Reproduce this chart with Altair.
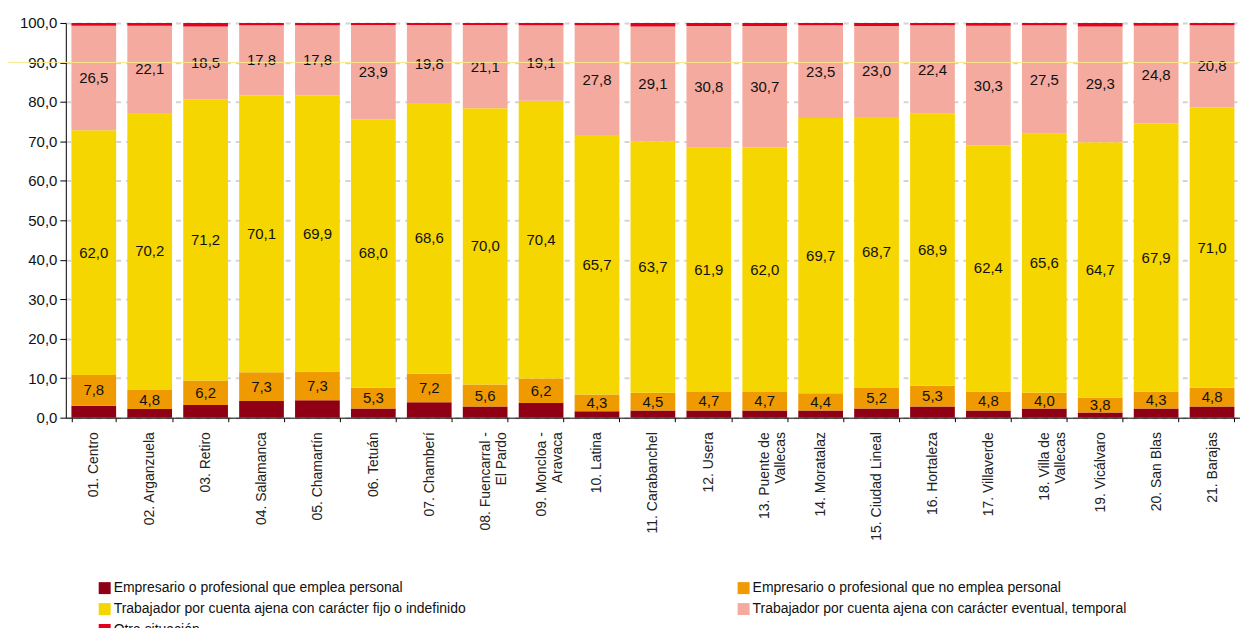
import altair as alt
import pandas as pd

districts = [
    "01. Centro", "02. Arganzuela", "03. Retiro", "04. Salamanca", "05. Chamartín",
    "06. Tetuán", "07. Chamberí", "08. Fuencarral -\nEl Pardo", "09. Moncloa -\nAravaca",
    "10. Latina", "11. Carabanchel", "12. Usera", "13. Puente de\nVallecas", "14. Moratalaz",
    "15. Ciudad Lineal", "16. Hortaleza", "17. Villaverde", "18. Villa de\nVallecas",
    "19. Vicálvaro", "20. San Blas", "21. Barajas",
]

series = [
    "Empresario o profesional que emplea personal",
    "Empresario o profesional que no emplea personal",
    "Trabajador por cuenta ajena con carácter fijo o indefinido",
    "Trabajador por cuenta ajena con carácter eventual, temporal",
    "Otra situación",
]
colors = ["#900015", "#EF9A00", "#F6D600", "#F5AA9F", "#E2001A"]
# legend fills column by column: order so that it reads row by row like the reference
legend_order = [0, 2, 4, 1, 3]

emp_con = [3.0, 2.2, 3.2, 4.2, 4.4, 2.3, 3.9, 2.8, 3.7, 1.6, 1.8, 1.8, 1.8, 1.8, 2.3, 2.8, 1.8, 2.3, 1.3, 2.3, 2.8]
emp_sin = [7.8, 4.8, 6.2, 7.3, 7.3, 5.3, 7.2, 5.6, 6.2, 4.3, 4.5, 4.7, 4.7, 4.4, 5.2, 5.3, 4.8, 4.0, 3.8, 4.3, 4.8]
fijo = [62.0, 70.2, 71.2, 70.1, 69.9, 68.0, 68.6, 70.0, 70.4, 65.7, 63.7, 61.9, 62.0, 69.7, 68.7, 68.9, 62.4, 65.6, 64.7, 67.9, 71.0]
eventual = [26.5, 22.1, 18.5, 17.8, 17.8, 23.9, 19.8, 21.1, 19.1, 27.8, 29.1, 30.8, 30.7, 23.5, 23.0, 22.4, 30.3, 27.5, 29.3, 24.8, 20.8]
otra = [0.7, 0.7, 0.9, 0.6, 0.6, 0.5, 0.5, 0.5, 0.6, 0.6, 0.9, 0.8, 0.8, 0.6, 0.8, 0.6, 0.7, 0.6, 0.9, 0.7, 0.6]
y_ticks = [0, 10, 20, 30, 40, 50, 60, 70, 80, 90, 100]

all_vals = [emp_con, emp_sin, fijo, eventual, otra]
labeled = [False, True, True, True, False]

rows = []
for si, (name, vals) in enumerate(zip(series, all_vals)):
    for d, v in zip(districts, vals):
        rows.append({"district": d, "serie": name, "idx": si, "value": v, "lab": labeled[si]})
df = pd.DataFrame(rows)

FONT = "Liberation Sans"
W, H = 1178, 396

x_axis = alt.Axis(labelAngle=-90, labelAlign="right", labelBaseline="middle",
                  labelExpr="split(datum.label, '\\n')", labelFontSize=14,
                  labelLineHeight=16, labelPadding=10, tickBand="extent",
                  tickSize=4, labelColor="#222222", labelFont=FONT, title=None)
y_axis = alt.Axis(values=y_ticks,
                  labelExpr="replace(format(datum.value, '.1f'), '.', ',')",
                  labelFontSize=15, tickSize=6, labelPadding=3,
                  grid=True, gridDash=[5, 5], gridColor="#d4d4d4", gridWidth=2,
                  labelColor="#111111", labelFont=FONT, title=None)
x_scale = alt.Scale(paddingInner=0.2, paddingOuter=0.1)
y_scale = alt.Scale(domain=[0, 100], nice=False)

bars = alt.Chart(df).mark_bar().encode(
    x=alt.X("district:N", sort=districts, scale=x_scale, axis=x_axis),
    y=alt.Y("value:Q", stack="zero", scale=y_scale, axis=y_axis),
    color=alt.Color("serie:N",
                    scale=alt.Scale(domain=[series[i] for i in legend_order],
                                    range=[colors[i] for i in legend_order]),
                    legend=alt.Legend(title=None, orient="none", legendX=32, legendY=560,
                                      columns=2, columnPadding=271, rowPadding=7,
                                      symbolType="square", symbolSize=144,
                                      symbolStrokeWidth=0, labelFontSize=14,
                                      labelOffset=2, labelFont=FONT, labelColor="#111111",
                                      labelLimit=600)),
    order=alt.Order("idx:Q"),
)

texts = alt.Chart(df).transform_stack(
    stack="value", as_=["y0", "y1"], groupby=["district"], sort=[alt.SortField("idx")]
).transform_filter("datum.lab").transform_calculate(
    mid="(datum.y0 + datum.y1) / 2",
    txt="replace(format(datum.value, '.1f'), '.', ',')",
).mark_text(fontSize=15, font=FONT, color="#111111", baseline="middle").encode(
    x=alt.X("district:N", sort=districts, scale=x_scale, axis=x_axis),
    y=alt.Y("mid:Q", scale=y_scale, axis=y_axis),
    text="txt:N",
)

line_df = pd.DataFrame({"v": [90]})
yline = alt.Chart(line_df).mark_rule(color="#F7E98A", strokeWidth=1).encode(
    y=alt.Y("v:Q", scale=y_scale, axis=y_axis), x=alt.value(-66), x2=alt.value(W + 10)
)

chart = alt.layer(bars, texts, yline).properties(
    width=W, height=H,
    autosize=alt.AutoSizeParams(type="none"),
    padding={"left": 58, "top": 14, "right": 0, "bottom": 210},
).configure_view(stroke=None).configure_axis(
    domainColor="#000000", tickColor="#000000", domainWidth=1
)

chart.save("out.html", embed_options={"renderer": "svg", "actions": False})
